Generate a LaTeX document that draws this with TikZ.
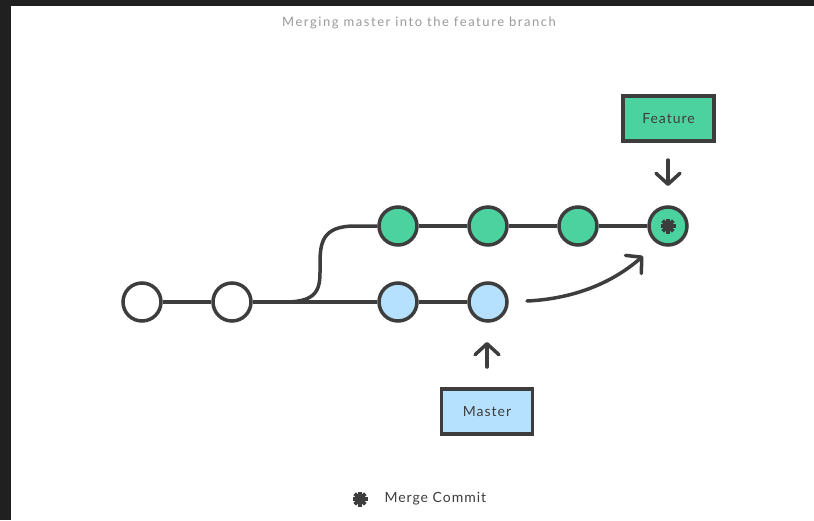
\documentclass[tikz,border=0pt]{standalone}
\usepackage{fontspec}
\setmainfont{Lato}[LetterSpace=7]
\newfontfamily\titlefont{Lato}[LetterSpace=12]
\usetikzlibrary{arrows.meta}
\definecolor{ink}{HTML}{3D3D3D}
\definecolor{featgreen}{HTML}{4CD29E}
\definecolor{mastblue}{HTML}{B5E1FF}
\definecolor{frame}{HTML}{202020}
\definecolor{titlegray}{HTML}{9A9A9A}
\tikzset{
  commit/.style={circle, draw=ink, line width=3.5pt, minimum size=38pt, inner sep=0pt},
  feat/.style={commit, fill=featgreen},
  mast/.style={commit, fill=mastblue},
  plain/.style={commit, fill=white},
  branchlabel/.style={draw=ink, line width=3.8pt, minimum width=91pt, minimum height=45pt, inner sep=0pt, font=\fontsize{14}{16}\selectfont, text=ink},
  edge/.style={draw=ink, line width=3.5pt},
  pointer/.style={draw=ink, line width=3.5pt, line cap=round, -{Straight Barb[length=11pt,width=24pt,line cap=round,line join=round]}},
  petal/.style={draw=ink, line width=3.8pt},
}
\begin{document}
\begin{tikzpicture}[x=1pt,y=-1pt]
\useasboundingbox (0,0) rectangle (814,520);
\fill[white] (0,0) rectangle (814,520);
\fill[frame] (0,0) rectangle (814,6);
\fill[frame] (0,0) rectangle (11,520);

\node[text=titlegray, font=\titlefont\fontsize{13}{15}\selectfont] (title) at (419,23) {Merging master into the feature branch};

% bottom row
\node[plain] (c1) at (142,302) {};
\node[plain] (c2) at (232,302) {};
\node[mast] (m1) at (398,302) {};
\node[mast] (m2) at (488,302) {};
% top row
\node[feat] (f1) at (398,226) {};
\node[feat] (f2) at (488,226) {};
\node[feat] (f3) at (578,226) {};
\node[feat] (f4) at (668,226) {};

\coordinate (fork) at (285,302);
\coordinate (rise) at (355,226);

\draw[edge] (c1) -- (c2);
\draw[edge] (c2) -- (m1);
\draw[edge] (m1) -- (m2);
\draw[edge] (fork) .. controls (322,302) and (320,285) .. (320,264)
                   .. controls (320,243) and (322,226) .. (rise) -- (f1);
\draw[edge] (f1) -- (f2);
\draw[edge] (f2) -- (f3);
\draw[edge] (f3) -- (f4);

% merge asterisk
\foreach \a in {0,45,90,135}
  \draw[petal, rotate around={\a:(668,226)}] (660.5,226) -- (675.5,226);
\fill[ink] (668,226) circle (4.2);

% labels
\node[branchlabel, fill=featgreen] (feature) at (668.5,118.5) {Feature};
\node[branchlabel, fill=mastblue] (master) at (487,411.5) {Master};

\coordinate (fa) at (668,160);
\coordinate (fb) at (668,186);
\draw[pointer] (fa) -- (fb);
\coordinate (ma) at (487,367);
\coordinate (mb) at (487,342);
\draw[pointer] (ma) -- (mb);

\coordinate (ca) at (527,301);
\coordinate (cb) at (643,256);
\draw[pointer] (ca) .. controls (570,299) and (610,285) .. (cb);

% legend
\foreach \a in {0,45,90,135}
  \draw[petal, rotate around={\a:(360,499)}] (352.5,499) -- (367.5,499);
\fill[ink] (360,499) circle (4.2);
\node[anchor=west, text=ink, font=\fontsize{14}{16}\selectfont] (legtext) at (381,499) {Merge Commit};
\end{tikzpicture}
\end{document}
